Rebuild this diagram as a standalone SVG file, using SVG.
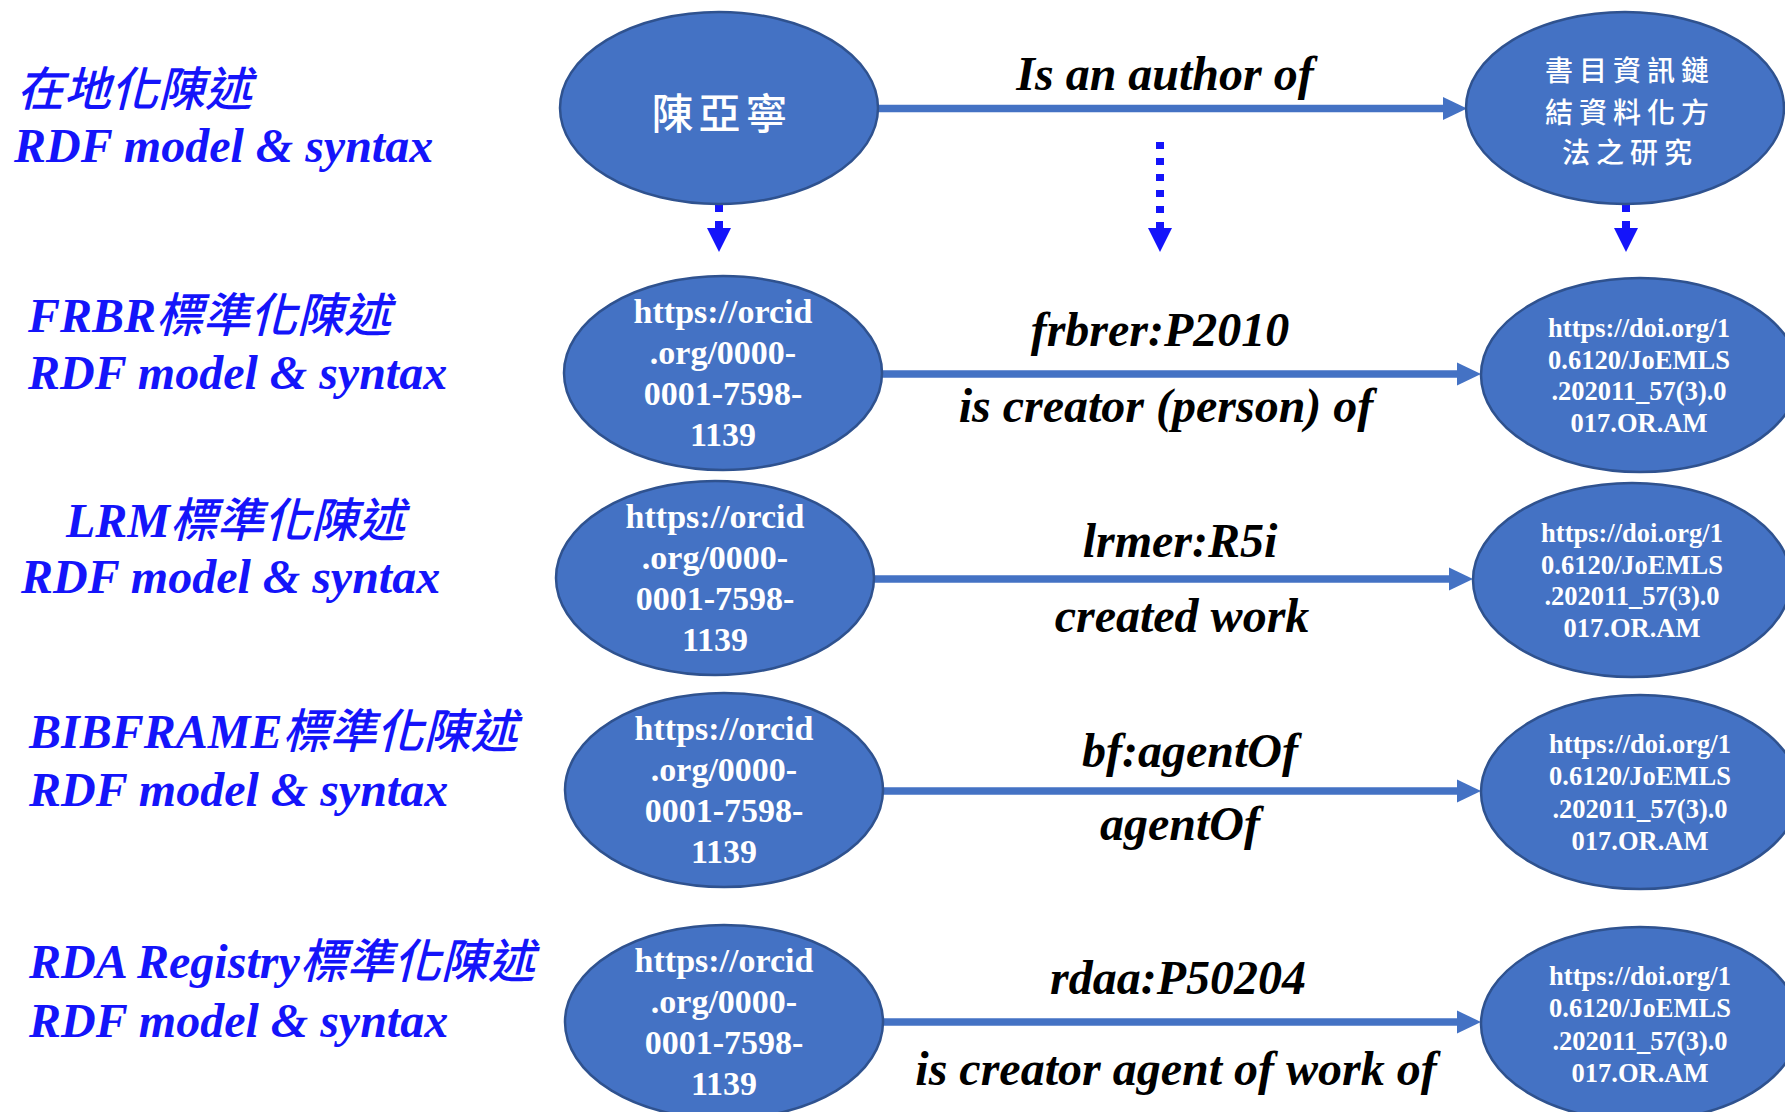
<svg xmlns="http://www.w3.org/2000/svg" width="1785" height="1112" viewBox="0 0 1785 1112">
<style>
.node{fill:#4472C4;stroke:#2F528F;stroke-width:2.5}
.lbl{font-family:"Liberation Serif","Noto Sans CJK TC",serif;font-weight:bold;font-style:italic;font-size:48px;fill:#1414FA}
.zh{font-family:"Noto Sans CJK TC",sans-serif;font-weight:500;font-size:47px}
.edge{font-family:"Liberation Serif","Noto Sans CJK TC",serif;font-weight:bold;font-style:italic;font-size:48px;fill:#000;text-anchor:middle}
.orcid{font-family:"Liberation Serif",serif;font-weight:bold;font-size:34px;fill:#fff;text-anchor:middle}
.doi{font-family:"Liberation Serif",serif;font-weight:bold;font-size:26.5px;fill:#fff;text-anchor:middle}
.cjk{font-family:"Noto Sans CJK TC",sans-serif;font-weight:500;fill:#fff;text-anchor:middle}
.conn{stroke:#4472C4;stroke-width:7.5;fill:none}
.head{fill:#4472C4}
.dash{stroke:#1414FA;stroke-width:8;stroke-dasharray:7 9;fill:none}
.dhead{fill:#1414FA}
</style>
<g id="labels">
<text class="lbl" x="17" y="106"><tspan class="zh">在地化陳述</tspan></text>
<text class="lbl" x="14" y="162">RDF model &amp; syntax</text>
<text class="lbl" x="28" y="332">FRBR<tspan class="zh">標準化陳述</tspan></text>
<text class="lbl" x="28" y="389">RDF model &amp; syntax</text>
<text class="lbl" x="66" y="537">LRM<tspan class="zh">標準化陳述</tspan></text>
<text class="lbl" x="21" y="593">RDF model &amp; syntax</text>
<text class="lbl" x="29" y="748">BIBFRAME<tspan class="zh">標準化陳述</tspan></text>
<text class="lbl" x="29" y="806">RDF model &amp; syntax</text>
<text class="lbl" x="29" y="978">RDA Registry<tspan class="zh">標準化陳述</tspan></text>
<text class="lbl" x="29" y="1037">RDF model &amp; syntax</text>
</g>
<g id="connectors">
<line class="conn" x1="878" y1="108.5" x2="1445" y2="108.5"/>
<polygon class="head" points="1443,97 1467,108.5 1443,120"/>
<line class="conn" x1="882" y1="374" x2="1459" y2="374"/>
<polygon class="head" points="1457,362.5 1481,374 1457,385.5"/>
<line class="conn" x1="874" y1="579" x2="1451" y2="579"/>
<polygon class="head" points="1449,567.5 1473,579 1449,590.5"/>
<line class="conn" x1="883" y1="791" x2="1459" y2="791"/>
<polygon class="head" points="1457,779.5 1481,791 1457,802.5"/>
<line class="conn" x1="883" y1="1022" x2="1459" y2="1022"/>
<polygon class="head" points="1457,1010.5 1481,1022 1457,1033.5"/>
<line class="dash" x1="719" y1="205" x2="719" y2="229"/>
<polygon class="dhead" points="707,228 731,228 719,252"/>
<line class="dash" x1="1160" y1="142" x2="1160" y2="229"/>
<polygon class="dhead" points="1148,228 1172,228 1160,252"/>
<line class="dash" x1="1626" y1="205" x2="1626" y2="229"/>
<polygon class="dhead" points="1614,228 1638,228 1626,252"/>
<text class="edge" x="1165" y="90">Is an author of</text>
<text class="edge" x="1160" y="346">frbrer:P2010</text>
<text class="edge" x="1166" y="422">is creator (person) of</text>
<text class="edge" x="1180" y="557">lrmer:R5i</text>
<text class="edge" x="1182" y="632">created work</text>
<text class="edge" x="1190" y="767">bf:agentOf</text>
<text class="edge" x="1180" y="840">agentOf</text>
<text class="edge" x="1178" y="994">rdaa:P50204</text>
<text class="edge" x="1176" y="1085">is creator agent of work of</text>
</g>
<g id="n-author">
<ellipse class="node" cx="719" cy="108" rx="159" ry="96"/>
<text class="cjk" x="722" y="129" font-size="42" letter-spacing="5">陳亞寧</text>
</g>
<g id="n-work">
<ellipse class="node" cx="1625" cy="108" rx="159" ry="96"/>
<text class="cjk" x="1630" y="81" font-size="28" letter-spacing="6">書目資訊鏈</text>
<text class="cjk" x="1630" y="123" font-size="28" letter-spacing="6">結資料化方</text>
<text class="cjk" x="1630" y="163" font-size="28" letter-spacing="6">法之研究</text>
</g>
<g id="n-frbr-orcid">
<ellipse class="node" cx="723" cy="373" rx="159" ry="97"/>
<text class="orcid" x="723" y="323">https://orcid</text>
<text class="orcid" x="723" y="364">.org/0000-</text>
<text class="orcid" x="723" y="405">0001-7598-</text>
<text class="orcid" x="723" y="446">1139</text>
</g>
<g id="n-frbr-doi">
<ellipse class="node" cx="1640" cy="375" rx="159" ry="97"/>
<text class="doi" x="1639" y="337">https://doi.org/1</text>
<text class="doi" x="1639" y="369">0.6120/JoEMLS</text>
<text class="doi" x="1639" y="400">.202011_57(3).0</text>
<text class="doi" x="1639" y="432">017.OR.AM</text>
</g>
<g id="n-lrm-orcid">
<ellipse class="node" cx="715" cy="578" rx="159" ry="97"/>
<text class="orcid" x="715" y="528">https://orcid</text>
<text class="orcid" x="715" y="569">.org/0000-</text>
<text class="orcid" x="715" y="610">0001-7598-</text>
<text class="orcid" x="715" y="651">1139</text>
</g>
<g id="n-lrm-doi">
<ellipse class="node" cx="1632" cy="580" rx="159" ry="97"/>
<text class="doi" x="1632" y="542">https://doi.org/1</text>
<text class="doi" x="1632" y="574">0.6120/JoEMLS</text>
<text class="doi" x="1632" y="605">.202011_57(3).0</text>
<text class="doi" x="1632" y="637">017.OR.AM</text>
</g>
<g id="n-bf-orcid">
<ellipse class="node" cx="724" cy="790" rx="159" ry="97"/>
<text class="orcid" x="724" y="740">https://orcid</text>
<text class="orcid" x="724" y="781">.org/0000-</text>
<text class="orcid" x="724" y="822">0001-7598-</text>
<text class="orcid" x="724" y="863">1139</text>
</g>
<g id="n-bf-doi">
<ellipse class="node" cx="1640" cy="792" rx="159" ry="97"/>
<text class="doi" x="1640" y="753">https://doi.org/1</text>
<text class="doi" x="1640" y="785">0.6120/JoEMLS</text>
<text class="doi" x="1640" y="818">.202011_57(3).0</text>
<text class="doi" x="1640" y="850">017.OR.AM</text>
</g>
<g id="n-rda-orcid">
<ellipse class="node" cx="724" cy="1022" rx="159" ry="97"/>
<text class="orcid" x="724" y="972">https://orcid</text>
<text class="orcid" x="724" y="1013">.org/0000-</text>
<text class="orcid" x="724" y="1054">0001-7598-</text>
<text class="orcid" x="724" y="1095">1139</text>
</g>
<g id="n-rda-doi">
<ellipse class="node" cx="1640" cy="1024" rx="159" ry="97"/>
<text class="doi" x="1640" y="985">https://doi.org/1</text>
<text class="doi" x="1640" y="1017">0.6120/JoEMLS</text>
<text class="doi" x="1640" y="1050">.202011_57(3).0</text>
<text class="doi" x="1640" y="1082">017.OR.AM</text>
</g>
</svg>
